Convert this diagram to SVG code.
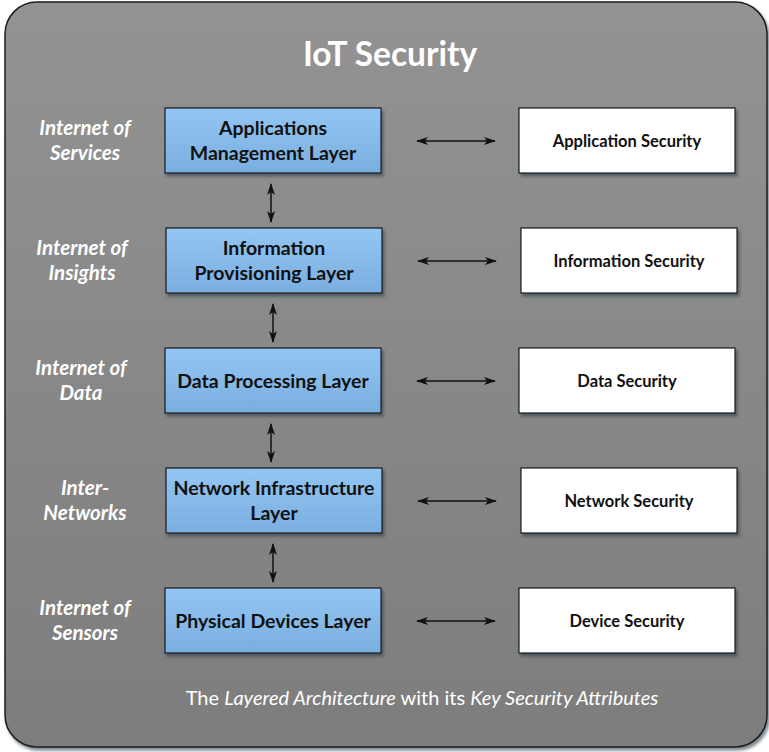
<svg xmlns="http://www.w3.org/2000/svg" width="769" height="752" viewBox="0 0 769 752">
<defs>
<linearGradient id="bg" x1="0" y1="0" x2="0" y2="1">
<stop offset="0" stop-color="#939393"/>
<stop offset="1" stop-color="#7d7d7d"/>
</linearGradient>
<linearGradient id="blue" x1="0" y1="0" x2="0" y2="1">
<stop offset="0" stop-color="#93c6f3"/>
<stop offset="1" stop-color="#7aaedf"/>
</linearGradient>
<filter id="sh" x="-10%" y="-10%" width="130%" height="130%">
<feGaussianBlur in="SourceAlpha" stdDeviation="1.5"/>
<feOffset dx="2" dy="3" result="o"/>
<feFlood flood-color="#2a3d4a" flood-opacity="0.6"/>
<feComposite in2="o" operator="in"/>
<feMerge><feMergeNode/><feMergeNode in="SourceGraphic"/></feMerge>
</filter>
<marker id="ah" viewBox="0 0 12 8" refX="11" refY="4" markerWidth="12" markerHeight="8" orient="auto-start-reverse" markerUnits="userSpaceOnUse">
<path d="M0,0 L12,4 L0,8 L3,4 Z" fill="#111"/>
</marker>
</defs>
<style>
.layer{fill:url(#blue);stroke:#1a1a1a;stroke-width:1.2;filter:url(#sh)}
.sec{fill:#fff;stroke:#1a1a1a;stroke-width:1.2;filter:url(#sh)}
.lt{font-family:Lato,"Open Sans",sans-serif;font-weight:bold;font-size:19.5px;fill:#111;text-anchor:middle}
.st{font-family:Lato,"Open Sans",sans-serif;font-weight:bold;font-size:16.5px;fill:#111;text-anchor:middle}
.side{font-family:Lato,"Open Sans",sans-serif;font-weight:bold;font-style:italic;font-size:20.5px;fill:#fff;text-anchor:middle}
.conn line{stroke:#111;stroke-width:1.5;marker-start:url(#ah);marker-end:url(#ah)}
</style>
<rect x="5" y="2" width="762" height="745" rx="32" fill="url(#bg)" stroke="#1e1e1e" stroke-width="1.5" filter="url(#sh)"/>
<text x="390" y="66" font-family="Lato,'Open Sans',sans-serif" font-weight="bold" font-size="33.5" fill="#fff" text-anchor="middle">IoT Security</text>

<g id="side-labels">
<text class="side" x="85" y="135">Internet of</text>
<text class="side" x="85" y="160">Services</text>
<text class="side" x="82" y="255">Internet of</text>
<text class="side" x="82" y="280">Insights</text>
<text class="side" x="81" y="375">Internet of</text>
<text class="side" x="81" y="400">Data</text>
<text class="side" x="85" y="495">Inter-</text>
<text class="side" x="85" y="520">Networks</text>
<text class="side" x="85" y="615">Internet of</text>
<text class="side" x="85" y="640">Sensors</text>
</g>

<g id="n-app"><rect class="layer" x="165" y="108" width="216" height="65"/>
<text class="lt" x="273" y="135">Applications</text><text class="lt" x="273" y="160">Management Layer</text></g>
<g id="n-info"><rect class="layer" x="166" y="228" width="216" height="65"/>
<text class="lt" x="274" y="255">Information</text><text class="lt" x="274" y="280">Provisioning Layer</text></g>
<g id="n-data"><rect class="layer" x="165" y="348" width="216" height="65"/>
<text class="lt" x="273" y="388">Data Processing Layer</text></g>
<g id="n-net"><rect class="layer" x="166" y="468" width="216" height="65"/>
<text class="lt" x="274" y="495">Network Infrastructure</text><text class="lt" x="274" y="520">Layer</text></g>
<g id="n-phys"><rect class="layer" x="165" y="588" width="216" height="65"/>
<text class="lt" x="273" y="628">Physical Devices Layer</text></g>

<g id="s-app"><rect class="sec" x="519" y="108" width="216" height="65"/><text class="st" x="627" y="147">Application Security</text></g>
<g id="s-info"><rect class="sec" x="521" y="228" width="216" height="65"/><text class="st" x="629" y="267">Information Security</text></g>
<g id="s-data"><rect class="sec" x="519" y="348" width="216" height="65"/><text class="st" x="627" y="387">Data Security</text></g>
<g id="s-net"><rect class="sec" x="521" y="468" width="216" height="65"/><text class="st" x="629" y="507">Network Security</text></g>
<g id="s-dev"><rect class="sec" x="519" y="588" width="216" height="65"/><text class="st" x="627" y="627">Device Security</text></g>

<g id="connectors" class="conn">
<line x1="417" y1="141" x2="495" y2="141"/>
<line x1="418" y1="261" x2="496" y2="261"/>
<line x1="417" y1="381" x2="495" y2="381"/>
<line x1="418" y1="501" x2="496" y2="501"/>
<line x1="417" y1="621" x2="495" y2="621"/>
<line x1="271" y1="184" x2="271" y2="222"/>
<line x1="273" y1="304" x2="273" y2="342"/>
<line x1="271" y1="424" x2="271" y2="462"/>
<line x1="273" y1="544" x2="273" y2="582"/>
</g>

<text x="422" y="705" font-family="Lato,'Open Sans',sans-serif" font-size="20" fill="#fff" text-anchor="middle">The <tspan font-style="italic">Layered Architecture</tspan> with its <tspan font-style="italic">Key Security Attributes</tspan></text>
</svg>
